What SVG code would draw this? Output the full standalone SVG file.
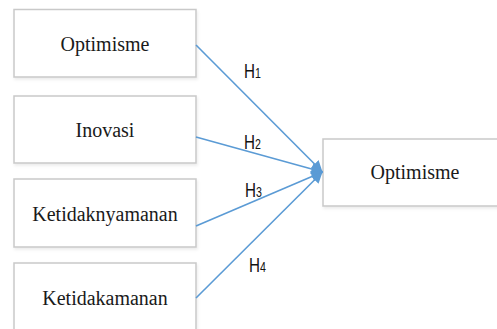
<svg xmlns="http://www.w3.org/2000/svg" width="497" height="329" viewBox="0 0 497 329">
<style>
.box{fill:#ffffff;stroke:#c9c9c9;stroke-width:1.5;filter:url(#sh)}
.lbl{font-family:"Liberation Serif","Times New Roman",serif;font-size:20px;fill:#1a1a1a;text-anchor:middle}
.h{font-family:"Liberation Sans",Arial,sans-serif;font-size:20px;fill:#111}
.h tspan{font-size:14px}
.con{stroke:#5b9bd5;stroke-width:1.6;fill:none;marker-end:url(#ar)}
</style>
<defs>
<filter id="sh" x="-10%" y="-10%" width="120%" height="130%">
<feDropShadow dx="1" dy="2" stdDeviation="1.5" flood-color="#000" flood-opacity="0.08"/>
</filter>
<marker id="ar" viewBox="0 0 10 10" refX="10" refY="5" markerWidth="7.5" markerHeight="7" orient="auto" markerUnits="strokeWidth">
<path d="M0,0 L10,5 L0,10 Z" fill="#5b9bd5"/>
</marker>
</defs>
<rect width="497" height="329" fill="#ffffff"/>
<g id="n1"><rect class="box" x="14" y="9.5" width="182" height="67.5"/><text class="lbl" x="105" y="51">Optimisme</text></g>
<g id="n2"><rect class="box" x="14" y="96" width="182" height="67"/><text class="lbl" x="105" y="137">Inovasi</text></g>
<g id="n3"><rect class="box" x="14" y="179" width="182" height="68"/><text class="lbl" x="105" y="220.5">Ketidaknyamanan</text></g>
<g id="n4"><rect class="box" x="14" y="263" width="182" height="70"/><text class="lbl" x="105" y="305">Ketidakamanan</text></g>
<g id="n5"><rect class="box" x="323" y="139" width="180" height="67"/><text class="lbl" x="415" y="179">Optimisme</text></g>
<g id="connectors">
<line class="con" x1="196" y1="45" x2="322.5" y2="172"/>
<line class="con" x1="196" y1="137" x2="322.5" y2="172"/>
<line class="con" x1="196" y1="226" x2="322.5" y2="172"/>
<line class="con" x1="196" y1="298" x2="322.5" y2="172"/>
<text class="h" transform="translate(244,78) scale(0.76,1)">H<tspan>1</tspan></text>
<text class="h" transform="translate(244,149) scale(0.76,1)">H<tspan>2</tspan></text>
<text class="h" transform="translate(245,197) scale(0.76,1)">H<tspan>3</tspan></text>
<text class="h" transform="translate(249,272) scale(0.76,1)">H<tspan>4</tspan></text>
</g>
</svg>
